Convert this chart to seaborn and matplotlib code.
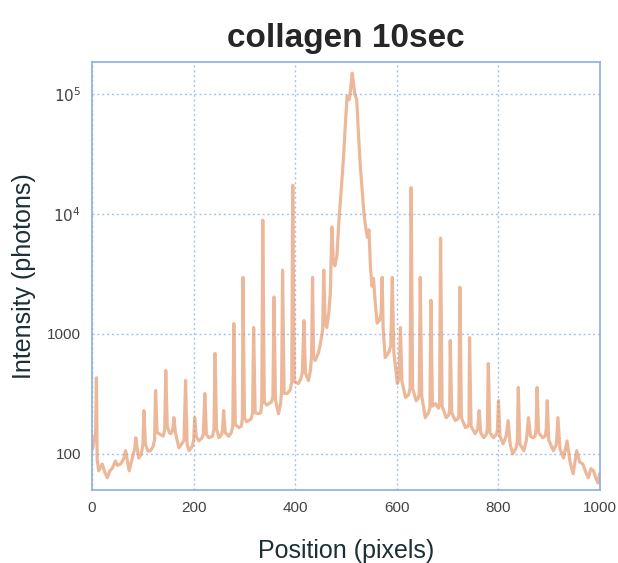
import numpy as np
import pandas as pd
import seaborn as sns
import matplotlib
matplotlib.use('Agg')
import matplotlib.pyplot as plt
from matplotlib.ticker import FixedLocator, FixedFormatter, NullLocator

# detector position (pixels) and intensity (photons)
position = [1, 4, 7, 8.5, 10, 13, 20, 25, 30, 35, 40, 46, 50, 56, 62, 66, 70, 73,
            80, 84, 86, 89, 92, 97, 100, 102, 105, 110, 115, 120, 123, 125, 128,
            132, 140, 143, 145, 148, 152, 155, 159, 161, 164, 171, 176, 181, 184,
            187, 191, 197, 200, 202, 205, 210, 216, 219, 222, 225, 230, 237, 240,
            242, 245, 250, 255, 257, 259, 262, 269, 274, 277, 279, 282, 289, 294,
            296, 297, 300, 304, 308, 313, 316, 318, 321, 328, 332, 334, 336, 339,
            344, 348, 353, 356, 358, 361, 367, 371, 373, 375, 378, 384, 390, 393,
            395, 398, 406, 411, 414, 417, 420, 426, 430, 432, 434, 436, 439, 446,
            451, 454, 456, 459, 462, 466, 469, 472, 475, 478, 482, 486, 490, 495,
            499, 502, 506, 509, 512, 515, 517, 521, 524, 528, 532, 535, 539, 542,
            545, 548, 551, 554, 557, 561, 566, 569, 571, 573, 577, 584, 588, 591,
            594, 601, 604, 607, 610, 617, 623, 626, 628, 631, 638, 642, 644, 646,
            649, 656, 662, 665, 667, 670, 676, 682, 684, 686, 689, 697, 702, 704,
            705, 708, 715, 720, 722, 724, 727, 735, 740, 742, 743, 746, 754, 759,
            762, 765, 771, 776, 778, 780, 783, 790, 796, 798, 800, 803, 809, 815,
            819, 823, 828, 834, 837, 839, 842, 850, 855, 859, 863, 868, 872, 874,
            876, 879, 887, 892, 894, 896, 899, 908, 914, 917, 921, 928, 935, 941,
            947, 954, 960, 966, 972, 977, 982, 987, 992, 996, 999]
intensity = [110, 130, 150, 430, 90, 72, 82, 70, 63, 72, 76, 87, 80, 82, 90, 106, 85, 72,
             95, 110, 136, 110, 92, 100, 120, 229, 120, 105, 106, 115, 130, 337, 150,
             147, 140, 160, 495, 170, 150, 147, 160, 200, 150, 112, 120, 130, 408,
             120, 106, 115, 130, 200, 140, 128, 135, 145, 318, 145, 136, 140, 160,
             686, 160, 136, 145, 160, 229, 150, 140, 150, 170, 1220, 175, 165, 170,
             200, 2960, 200, 185, 189, 195, 220, 1130, 220, 216, 220, 260, 8900, 270,
             255, 262, 270, 300, 2030, 280, 216, 260, 330, 3400, 320, 318, 340, 400,
             17400, 400, 385, 420, 480, 1290, 470, 408, 500, 650, 2960, 650, 600, 700,
             900, 1100, 3400, 1200, 1130, 1500, 2200, 7800, 4000, 3700, 4500, 9000, 15000, 30000,
             60000, 96000, 90000, 110000, 150000, 120000, 100000, 90000, 50000, 25000, 15000, 10300, 7500, 6400,
             7400, 3600, 2500, 2900, 1900, 1230, 1300, 1500, 2960, 1100, 635, 700, 800, 2960,
             700, 385, 420, 1130, 400, 295, 310, 350, 16600, 350, 277, 290, 320, 2960,
             300, 200, 220, 240, 1910, 250, 262, 240, 260, 6300, 250, 200, 210, 230,
             880, 220, 189, 195, 210, 2450, 200, 165, 170, 180, 930, 170, 147, 160,
             229, 150, 136, 145, 160, 565, 150, 136, 145, 160, 277, 140, 121, 140,
             189, 120, 100, 110, 125, 357, 120, 106, 130, 200, 140, 136, 140, 160,
             357, 150, 136, 140, 160, 277, 130, 106, 120, 200, 110, 92, 128, 85,
             68, 106, 85, 82, 70, 63, 75, 72, 62, 57, 68]

ytick_vals = [100, 1000, 1e4, 1e5]
ytick_labels = ['100', '1000', '$10^4$', '$10^5$']
xtick_vals = [0, 200, 400, 600, 800, 1000]

df = pd.DataFrame({'position': position, 'intensity': intensity})

sns.set_style("white")
plt.rcParams['font.family'] = ['Liberation Sans', 'DejaVu Sans']

fig = plt.figure(figsize=(6.18, 5.63), dpi=100)
ax = fig.add_axes([0.149, 0.13, 0.822, 0.76])

sns.lineplot(data=df, x='position', y='intensity', ax=ax, color='#e08a55',
             alpha=0.6, linewidth=2.3, estimator=None, sort=False)

ax.set_yscale('log')
ax.set_xlim(0, 1000)
ax.set_ylim(50, 1.86e5)

ax.yaxis.set_major_locator(FixedLocator(ytick_vals))
ax.yaxis.set_major_formatter(FixedFormatter(ytick_labels))
ax.yaxis.set_minor_locator(NullLocator())
ax.set_xticks(xtick_vals)
ax.tick_params(length=0, labelsize=11, labelcolor='#444444', pad=8)

ax.grid(True, color='#a9c2ea', linestyle=(0, (1.5, 2)), linewidth=1.0)
for s in ax.spines.values():
    s.set_color('#8aaee0')
    s.set_linewidth(1.2)

ax.set_title('collagen 10sec', fontsize=24, fontweight='bold', pad=11)
ax.set_xlabel('Position (pixels)', fontsize=18, color='#1d2f36', labelpad=17)
ax.set_ylabel('Intensity (photons)', fontsize=18, color='#1d2f36', labelpad=8)

fig.savefig('out.png', dpi=100)
